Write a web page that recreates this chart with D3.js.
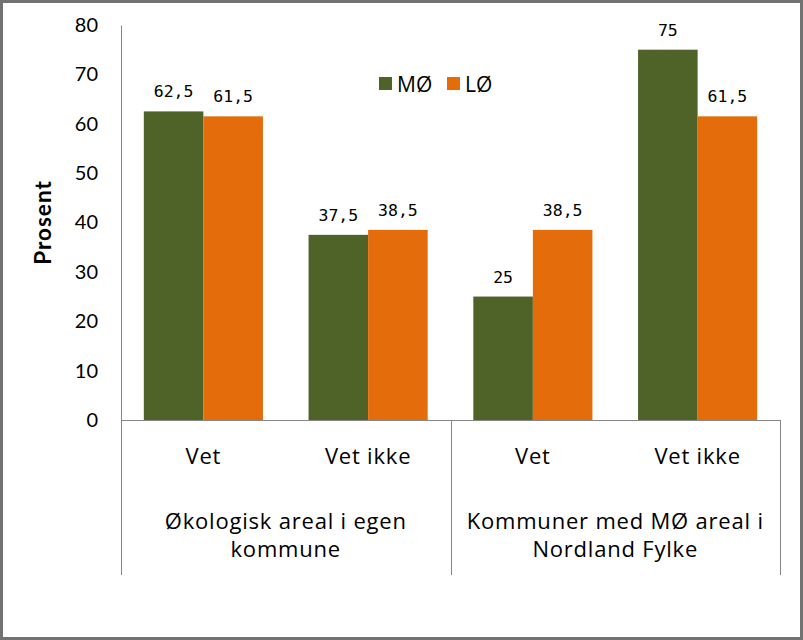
<!DOCTYPE html>
<html><head><meta charset="utf-8">
<script src="https://cdn.jsdelivr.net/npm/d3@7/dist/d3.min.js"></script>
<style>
html,body{margin:0;padding:0;background:#fff;}
svg{display:block;}
</style></head>
<body>
<script>
const categories = ["Vet", "Vet ikke", "Vet", "Vet ikke"];
const groups = [["Økologisk areal i egen", "kommune"], ["Kommuner med MØ areal i", "Nordland Fylke"]];
const seriesNames = ["MØ", "LØ"];
const seriesMO = [62.5, 37.5, 25, 75];
const seriesLO = [61.5, 38.5, 38.5, 61.5];
const valueLabelsMO = ["62,5", "37,5", "25", "75"];
const valueLabelsLO = ["61,5", "38,5", "38,5", "61,5"];
const yTicks = [0, 10, 20, 30, 40, 50, 60, 70, 80];
const colors = ["#4F6228", "#E46C0A"];

(function () {
const W = 803, H = 640;
const mLeft = 121, mRight = 780, mTop = 25, mBottom = 420;
const svg = d3.select("body").append("svg").attr("width", W).attr("height", H);

svg.append("rect").attr("x", 1.5).attr("y", 1.5).attr("width", W - 3).attr("height", H - 3)
  .attr("fill", "#fff").attr("stroke", "#727272").attr("stroke-width", 3);

const y = d3.scaleLinear().domain([0, 80]).range([mBottom, mTop]);
const x0 = d3.scaleBand().domain(d3.range(categories.length)).range([mLeft, mRight])
  .paddingInner(0.277).paddingOuter(0.1385);
const x1 = d3.scaleBand().domain([0, 1]).range([0, x0.bandwidth()]);
const xCat = d3.scaleBand().domain(d3.range(categories.length)).range([mLeft, mRight]);

const tickFont = "Lato, 'Open Sans', sans-serif";
const textFont = "'Open Sans', 'Noto Sans', sans-serif";
const labelFont = "'DejaVu Sans Mono', monospace";

// y axis
const yAxis = svg.append("g").attr("transform", `translate(${mLeft},0)`)
  .call(d3.axisLeft(y).tickValues(yTicks).tickSize(0).tickPadding(23).tickFormat(d3.format("d")));
yAxis.select(".domain").attr("stroke", "#868686").attr("stroke-width", 1);
yAxis.selectAll("text").attr("font-family", tickFont).attr("font-size", 20).attr("fill", "#000");

// bars
const series = [seriesMO, seriesLO];
const labels = [valueLabelsMO, valueLabelsLO];
series.forEach((vals, s) => {
  svg.append("g").selectAll("rect").data(vals).join("rect")
    .attr("x", (d, i) => x0(i) + x1(s))
    .attr("y", d => y(d))
    .attr("width", x1.bandwidth())
    .attr("height", d => y(0) - y(d))
    .attr("fill", colors[s]);
  svg.append("g").selectAll("text").data(vals).join("text")
    .attr("x", (d, i) => x0(i) + x1(s) + x1.bandwidth() / 2)
    .attr("y", d => y(d) - 14)
    .attr("text-anchor", "middle")
    .attr("font-family", labelFont).attr("font-size", 16.5).attr("fill", "#000")
    .text((d, i) => labels[s][i]);
});

// x axis line
svg.append("line").attr("x1", mLeft).attr("x2", mRight).attr("y1", mBottom + 0.5).attr("y2", mBottom + 0.5)
  .attr("stroke", "#868686");
// group separators
[mLeft, xCat(2), mRight].forEach(xx => {
  svg.append("line").attr("x1", Math.round(xx) + 0.5).attr("x2", Math.round(xx) + 0.5)
    .attr("y1", mBottom).attr("y2", 575).attr("stroke", "#868686");
});

// category labels
svg.append("g").selectAll("text").data(categories).join("text")
  .attr("x", (d, i) => xCat(i) + xCat.bandwidth() / 2)
  .attr("y", 464)
  .attr("text-anchor", "middle")
  .attr("font-family", textFont).attr("font-size", 22).attr("letter-spacing", 0.8).attr("fill", "#000")
  .text(d => d);

// group labels
groups.forEach((lines, g) => {
  const cx = (xCat(g * 2) + xCat(g * 2 + 1) + xCat.bandwidth()) / 2;
  const t = svg.append("text").attr("text-anchor", "middle")
    .attr("font-family", textFont).attr("font-size", 22).attr("letter-spacing", 0.8).attr("fill", "#000");
  lines.forEach((ln, k) => {
    t.append("tspan").attr("x", cx).attr("y", 529 + k * 28).text(ln);
  });
});

// y title
svg.append("text").attr("transform", `translate(51,${(mTop + mBottom) / 2}) rotate(-90)`)
  .attr("text-anchor", "middle")
  .attr("font-family", tickFont).attr("font-weight", "bold").attr("font-size", 22.5).attr("letter-spacing", 1)
  .attr("fill", "#000")
  .text("Prosent");

// legend
const legend = svg.append("g");
const legX = [379, 447];
seriesNames.forEach((n, s) => {
  legend.append("rect").attr("x", legX[s]).attr("y", 77).attr("width", 13).attr("height", 13).attr("fill", colors[s]);
  legend.append("text").attr("x", legX[s] + 18).attr("y", 92)
    .attr("font-family", textFont).attr("font-size", 21).attr("fill", "#000").text(n);
});
})();
</script>
</body></html>
